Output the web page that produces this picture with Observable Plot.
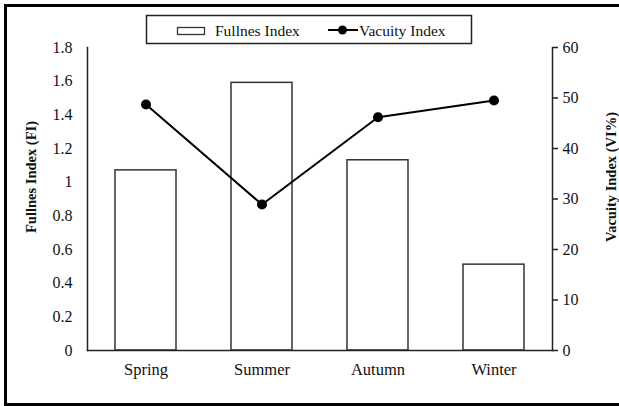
<!DOCTYPE html>
<html>
<head>
<meta charset="utf-8">
<script src="https://cdn.jsdelivr.net/npm/d3@7"></script>
<script src="https://cdn.jsdelivr.net/npm/@observablehq/plot@0.6"></script>
<style>
  html, body { margin: 0; padding: 0; background: #fff; }
  #wrap { position: relative; width: 619px; height: 406px; overflow: hidden; background: #fff; font-family: "Liberation Serif", "Times New Roman", serif; }
  #wrap svg.plot { position: absolute; left: 0; top: 0; }
  .bd { position: absolute; background: #000; }
  #legend { position: absolute; left: 0; top: 0; }
</style>
</head>
<body>
<div id="wrap">
  <div class="bd" style="left:4px;top:4px;width:615px;height:3px"></div>
  <div class="bd" style="left:4px;top:4px;width:3px;height:402px"></div>
  <div class="bd" style="left:4px;top:403px;width:615px;height:3px"></div>
</div>
<script>
const seasons = ["Spring", "Summer", "Autumn", "Winter"];
const fullness = [1.07, 1.59, 1.13, 0.51];
const vacuity = [48.7, 28.9, 46.2, 49.5];
const fiTicks = [0, 0.2, 0.4, 0.6, 0.8, 1, 1.2, 1.4, 1.6, 1.8];
const viTicks = [0, 10, 20, 30, 40, 50, 60];
const seriesNames = ["Fullnes Index", "Vacuity Index"];
const axisTitles = ["Fullnes Index (FI)", "Vacuity Index (VI%)"];

const k = 1.8 / 60; // map secondary axis onto primary scale
const data = seasons.map((s, i) => ({season: s, fi: fullness[i], vi: vacuity[i]}));
const serif = "'Liberation Serif', 'Times New Roman', serif";

const chart = Plot.plot({
  width: 619,
  height: 406,
  marginLeft: 87,
  marginRight: 67,
  marginTop: 47,
  marginBottom: 56,
  style: {fontFamily: serif, fontSize: "16px", background: "transparent", color: "#111"},
  x: {domain: seasons, paddingInner: 0.475, paddingOuter: 0.2375, axis: null},
  y: {domain: [0, 1.8], axis: null},
  marks: [
    Plot.barY(data, {x: "season", y: "fi", fill: "white", stroke: "#333", strokeWidth: 1.5}),
    Plot.frame({anchor: "left", stroke: "#222", strokeWidth: 1.5}),
    Plot.frame({anchor: "right", stroke: "#222", strokeWidth: 1.5}),
    Plot.frame({anchor: "bottom", stroke: "#222", strokeWidth: 1.5}),
    Plot.axisY(fiTicks, {anchor: "left", tickSize: 0, tickPadding: 15, label: null, fontSize: 16, fontFamily: serif,
      tickFormat: d => String(+d.toFixed(1))}),
    Plot.axisY(viTicks.map(v => v * k), {anchor: "right", tickSize: 5, tickPadding: 5, label: null, fontSize: 16, fontFamily: serif,
      stroke: "#222", strokeWidth: 1.5, tickFormat: d => String(Math.round(d / k))}),
    Plot.axisX({tickSize: 0, tickPadding: 13, label: null, fontSize: 16.5, fontFamily: serif}),
    Plot.line(data, {x: "season", y: d => d.vi * k, stroke: "black", strokeWidth: 2}),
    Plot.dot(data, {x: "season", y: d => d.vi * k, r: 5, fill: "black", stroke: "none"}),
    Plot.text([axisTitles[0]], {text: d => d, frameAnchor: "left", textAnchor: "middle", dx: -56, dy: -22, rotate: -90,
      fontWeight: "bold", fontSize: 14.5, fontFamily: serif, fill: "#111"}),
    Plot.text([axisTitles[1]], {text: d => d, frameAnchor: "right", textAnchor: "middle", dx: 59, dy: -22, rotate: -90,
      fontWeight: "bold", fontSize: 14.5, fontFamily: serif, fill: "#111"})
  ]
});
chart.classList.add("plot");
const wrap = document.getElementById("wrap");
wrap.insertBefore(chart, wrap.firstChild);

// legend
const NS = "http://www.w3.org/2000/svg";
const lg = document.createElementNS(NS, "svg");
lg.setAttribute("id", "legend");
lg.setAttribute("width", 619);
lg.setAttribute("height", 60);
lg.innerHTML = `
  <rect x="146.5" y="15.5" width="325" height="28" fill="white" stroke="#222" stroke-width="1.5"/>
  <rect x="177.5" y="27.5" width="27" height="7" fill="white" stroke="#333" stroke-width="1.3"/>
  <text x="215" y="35.5" font-size="15.5" fill="#111" font-family="'Liberation Serif', serif">${seriesNames[0]}</text>
  <line x1="328" y1="30" x2="358" y2="30" stroke="black" stroke-width="2"/>
  <circle cx="342.5" cy="30" r="4.5" fill="black"/>
  <text x="359" y="35.5" font-size="15.5" fill="#111" font-family="'Liberation Serif', serif">${seriesNames[1]}</text>
`;
wrap.appendChild(lg);
</script>
</body>
</html>
